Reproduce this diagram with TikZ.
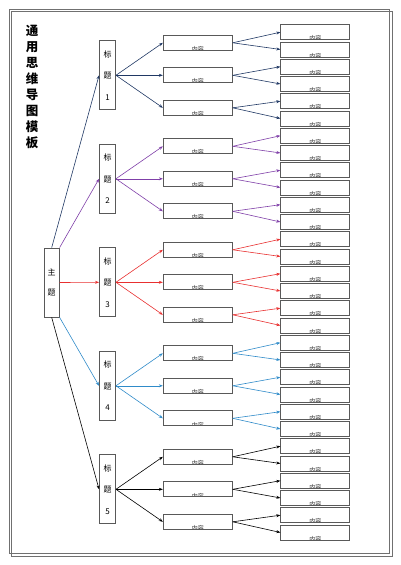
\documentclass[tikz,border=0pt]{standalone}
\usepackage{fontspec}
\setmainfont{Noto Sans CJK SC}
\usetikzlibrary{arrows.meta}
\definecolor{mapnavy}{HTML}{203864}
\definecolor{mapviolet}{HTML}{7F3FA8}
\definecolor{mapred}{HTML}{E83030}
\definecolor{mapsky}{HTML}{2F8BC9}
\definecolor{mapframe}{HTML}{707070}

\begin{document}
\begin{tikzpicture}[x=1pt,y=-1pt,
  box/.style={draw=black!65,line width=0.9pt,fill=white,inner sep=0pt},
  topic/.style={box,minimum width=16pt,minimum height=69pt,align=center,
    font=\fontsize{8}{21.5}\selectfont},
  item/.style={box,minimum width=69pt,minimum height=15pt,
    path picture={\node[inner sep=0pt,text=black!80,font=\fontsize{6}{6}\selectfont]
      at ([yshift=1.1pt]path picture bounding box.south) {内容};}},
  link/.style={-{Stealth[length=4pt,width=3pt]},line width=0.6pt}]

\useasboundingbox (0,0) rectangle (400,565);
\draw[mapframe,line width=0.7pt] (9,9) rectangle (389,553);
\draw[mapframe,line width=0.7pt] (11,11) rectangle (392,556);

\node[align=center,font=\fontsize{12.5}{16}\selectfont\bfseries] (title) at (32,87)
  {通\\用\\思\\维\\导\\图\\模\\板};

\node[box,minimum width=15pt,minimum height=69pt,align=center,
  font=\fontsize{8}{20}\selectfont] (main) at (51.7,282.5) {主\\题};

\foreach \k/\col/\anc [evaluate=\k as \n using int(\k+1)] in
  {0/mapnavy/north,1/mapviolet/north east,2/mapred/east,3/mapsky/south east,4/black/south} {
  \node[topic] (t\n) at (107.5,{75.3+103.5*\k}) {标\\题\\\n};
  \draw[link,\col] (main.\anc) -- (t\n.west);
  \foreach \i in {0,1,2} {
    \node[item] (m\n\i) at (197.8,{75.3+103.5*\k+32.5*(\i-1)}) {};
    \draw[link,\col] (t\n.east) -- (m\n\i.west);
    \foreach \j in {0,1} {
      \node[item] (l\n\i\j) at (315.3,{32.2+17.25*(6*\k+2*\i+\j)}) {};
      \draw[link,\col] (m\n\i.east) -- (l\n\i\j.west);
    }
  }
}
\end{tikzpicture}
\end{document}
